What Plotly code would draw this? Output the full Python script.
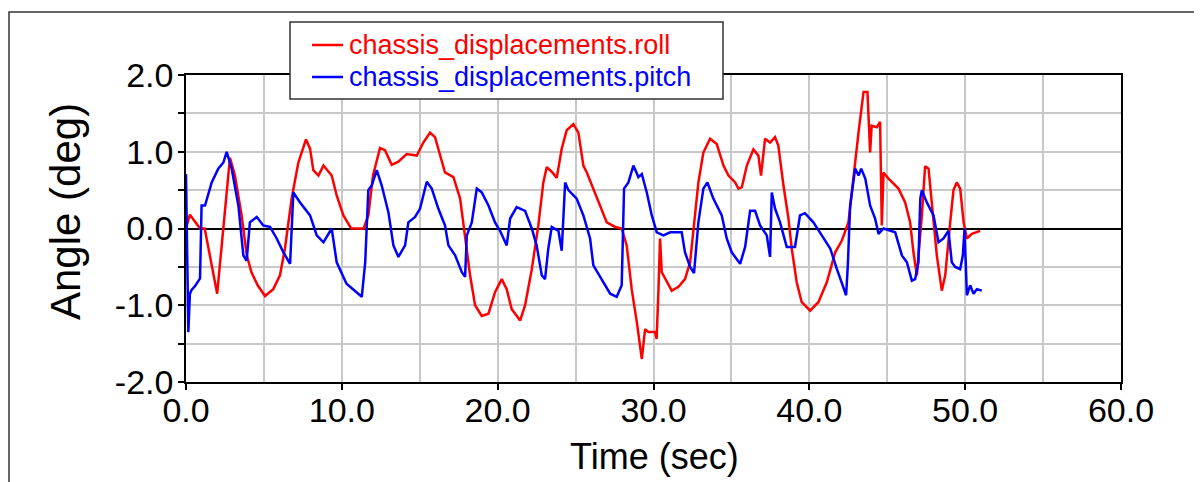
import plotly.graph_objects as go

# ---- data ----
roll_t = [0, 0.25, 0.9, 1.2, 2.0, 2.82, 3.14, 3.57, 3.9, 4.2,
          4.6, 5.07, 5.6, 6.03, 6.35, 6.57, 6.78, 7.21, 7.7, 7.96,
          8.17, 8.5, 8.82, 9.35, 9.67, 10.1, 10.6, 11.4, 11.7, 12.0,
          12.45, 12.77, 13.2, 13.63, 14.16, 14.81, 15.23, 15.66, 15.98, 16.62,
          17.16, 17.59, 17.91, 18.23, 18.55, 18.98, 19.41, 19.83, 20.26, 20.58,
          20.9, 21.44, 21.76, 22.19, 22.61, 22.93, 23.15, 23.47, 23.79, 24.11,
          24.43, 24.86, 25.18, 25.5, 25.72, 26.14, 26.57, 27.0, 27.54, 27.96,
          28.28, 28.6, 28.93, 29.25, 29.46, 29.67, 30.1, 30.2, 30.32, 30.42,
          30.53, 30.85, 31.17, 31.6, 32.02, 32.35, 32.56, 32.88, 33.2, 33.63,
          34.06, 34.49, 34.81, 35.24, 35.45, 35.67, 35.99, 36.41, 36.73, 36.9,
          37.16, 37.48, 37.8, 38.01, 38.34, 38.66, 38.87, 39.19, 39.51, 40.05,
          40.58, 41.12, 41.66, 42.08, 42.51, 42.83, 43.16, 43.48, 43.73, 43.9,
          44.0, 44.33, 44.54, 44.65, 44.76, 45.08, 45.72, 46.15, 46.47, 46.68,
          46.9, 47.22, 47.43, 47.65, 47.97, 48.18, 48.5, 48.72, 49.04, 49.25,
          49.46, 49.68, 49.9, 50.11, 50.43, 50.96]
roll_deg = [0, 0.18, 0, 0, -0.85, 0.92, 0.69, 0.17, -0.35, -0.57,
            -0.74, -0.88, -0.79, -0.61, -0.26, 0.08, 0.39, 0.86, 1.16, 1.04,
            0.76, 0.69, 0.82, 0.69, 0.43, 0.17, 0, 0, 0.17, 0.69,
            1.05, 1.02, 0.83, 0.87, 0.97, 0.95, 1.12, 1.25, 1.19, 0.73,
            0.67, 0.39, -0.09, -0.61, -1.0, -1.14, -1.11, -0.83, -0.66, -0.79,
            -1.05, -1.2, -1.0, -0.53, 0.04, 0.6, 0.8, 0.74, 0.66, 1.04,
            1.28, 1.36, 1.25, 0.82, 0.73, 0.52, 0.3, 0.08, 0.02, 0,
            -0.22, -0.79, -1.22, -1.7, -1.31, -1.35, -1.35, -1.44, -0.79, -0.13,
            -0.57, -0.7, -0.81, -0.76, -0.66, -0.44, 0, 0.6, 0.99, 1.17,
            1.1, 0.82, 0.69, 0.6, 0.52, 0.54, 0.82, 1.03, 0.95, 0.69,
            1.17, 1.12, 1.19, 1.08, 0.56, 0.13, -0.26, -0.7, -0.96, -1.07,
            -0.96, -0.7, -0.31, -0.16, 0.08, 0.69, 1.26, 1.78, 1.78, 0.99,
            1.34, 1.32, 1.39, 0.04, 0.73, 0.65, 0.52, 0.34, 0.08, -0.31,
            -0.61, 0.17, 0.81, 0.78, 0.08, -0.35, -0.81, -0.61, 0.08, 0.5,
            0.6, 0.52, 0.08, -0.13, -0.07, -0.03]

pitch_t = [0, 0.08, 0.15, 0.25, 0.36, 0.58, 0.9, 1.0, 1.22, 1.65,
           2.07, 2.4, 2.61, 2.93, 3.36, 3.68, 3.89, 4.1, 4.54, 4.96,
           5.39, 5.82, 6.25, 6.68, 6.89, 7.32, 7.96, 8.39, 8.82, 9.35,
           9.67, 10.3, 10.85, 11.28, 11.5, 11.7, 11.92, 12.24, 12.56, 12.99,
           13.31, 13.63, 14.06, 14.27, 14.7, 15.02, 15.45, 15.77, 16.19, 16.62,
           16.84, 17.27, 17.7, 17.91, 18.02, 18.34, 18.66, 18.98, 19.41, 19.83,
           20.15, 20.58, 20.8, 21.22, 21.76, 22.19, 22.5, 22.83, 23.04, 23.25,
           23.47, 23.9, 24.11, 24.33, 24.54, 25.07, 25.5, 25.93, 26.14, 26.68,
           27.22, 27.64, 27.96, 28.11, 28.39, 28.71, 29.03, 29.25, 29.57, 29.89,
           30.21, 30.64, 31.07, 31.81, 32.02, 32.35, 32.6, 32.88, 33.2, 33.46,
           33.84, 34.38, 34.7, 35.02, 35.56, 35.88, 36.2, 36.52, 36.84, 37.27,
           37.48, 37.59, 37.8, 38.12, 38.55, 39.08, 39.4, 39.72, 40.26, 40.8,
           41.34, 41.77, 42.08, 42.36, 42.47, 42.62, 42.94, 43.16, 43.33, 43.59,
           43.9, 44.22, 44.44, 44.76, 45.51, 45.94, 46.26, 46.58, 46.79, 47.0,
           47.12, 47.22, 47.54, 47.97, 48.29, 48.61, 48.93, 49.14, 49.36, 49.68,
           49.85, 49.96, 50.11, 50.32, 50.54, 50.75, 51.07]
pitch_deg = [0.71, -0.5, -1.35, -0.85, -0.8, -0.75, -0.65, 0.3, 0.3, 0.6,
             0.78, 0.86, 1.0, 0.78, 0.3, -0.35, -0.42, 0.08, 0.15, 0.04,
             0.02, -0.13, -0.31, -0.46, 0.47, 0.34, 0.17, -0.09, -0.18, 0,
             -0.44, -0.72, -0.81, -0.89, -0.44, 0.5, 0.56, 0.76, 0.56, 0.21,
             -0.22, -0.37, -0.22, 0.08, 0.15, 0.26, 0.61, 0.52, 0.26, 0.04,
             -0.22, -0.35, -0.57, -0.63, -0.09, 0.08, 0.52, 0.47, 0.3, 0.08,
             -0.03, -0.22, 0.13, 0.28, 0.23, 0, -0.22, -0.61, -0.66, -0.26,
             0.02, -0.03, -0.29, 0.6, 0.5, 0.39, 0.17, -0.13, -0.48, -0.66,
             -0.85, -0.89, -0.74, 0.52, 0.6, 0.82, 0.67, 0.71, 0.47, 0.17,
             -0.05, -0.09, -0.05, -0.05, -0.31, -0.5, -0.58, 0.08, 0.52, 0.6,
             0.39, 0.17, -0.13, -0.31, -0.46, -0.24, 0.23, 0.23, 0.04, -0.09,
             -0.37, 0.47, 0.26, 0.08, -0.24, -0.24, 0.17, 0.2, 0.08, -0.09,
             -0.26, -0.53, -0.72, -0.87, -0.48, 0.3, 0.78, 0.69, 0.78, 0.65,
             0.3, 0.13, -0.07, 0, -0.05, -0.35, -0.44, -0.68, -0.66, -0.44,
             0.39, 0.5, 0.34, 0.17, -0.18, -0.13, -0.03, -0.44, -0.5, -0.53,
             -0.35, 0, -0.87, -0.74, -0.85, -0.79, -0.81]

series_names = ["chassis_displacements.roll", "chassis_displacements.pitch"]
series_colors = ["#ff0000", "#0000ff"]
x_ticks = [0, 10, 20, 30, 40, 50, 60]
x_ticktext = ["0.0", "10.0", "20.0", "30.0", "40.0", "50.0", "60.0"]
y_ticks = [-2, -1, 0, 1, 2]
y_ticktext = ["-2.0", "-1.0", "0.0", "1.0", "2.0"]
x_title = "Time (sec)"
y_title = "Angle (deg)"

FONT = "Liberation Sans, Arial, sans-serif"
OFF = 8                       # page body margin
W, H = 1202 - OFF, 482 - OFF
# plot area in screen pixels: x 186..1121, y 75..382
L, T = 186 - OFF, 75 - OFF
R, B = W - (1121 - OFF), H - (382 - OFF)
PW, PH = W - L - R, H - T - B


def px_x(p):   # screen pixel -> paper x
    return (p - OFF - L) / PW


def px_y(p):   # screen pixel -> paper y
    return (H - B - (p - OFF)) / PH


fig = go.Figure()
for t, v, name, col in [(roll_t, roll_deg, series_names[0], series_colors[0]),
                        (pitch_t, pitch_deg, series_names[1], series_colors[1])]:
    fig.add_trace(go.Scatter(x=t, y=v, mode="lines", name=name,
                             line=dict(color=col, width=2.5), showlegend=False))

grid = "#c8c8c8"
annotations = [
    dict(text=x_title, xref="paper", yref="paper", x=px_x(654), y=px_y(456),
         xanchor="center", yanchor="middle", showarrow=False,
         font=dict(family=FONT, size=36, color="black")),
    dict(text=y_title, xref="paper", yref="paper", x=px_x(65), y=px_y(211),
         xanchor="center", yanchor="middle", showarrow=False, textangle=-90,
         font=dict(family=FONT, size=42, color="black")),
]
shapes = [
    # outer frame
    dict(type="rect", xref="paper", yref="paper",
         x0=px_x(9), x1=px_x(1400), y0=px_y(700), y1=px_y(12),
         line=dict(color="#333", width=1.5), layer="below"),
    # legend box
    dict(type="rect", xref="paper", yref="paper",
         x0=px_x(290), x1=px_x(723), y0=px_y(99), y1=px_y(22),
         line=dict(color="#333", width=1.5), fillcolor="white", layer="above"),
]
legend_rows = [45, 77]
for name, col, ry in zip(series_names, series_colors, legend_rows):
    shapes.append(dict(type="line", xref="paper", yref="paper",
                       x0=px_x(312), x1=px_x(343), y0=px_y(ry), y1=px_y(ry),
                       line=dict(color=col, width=2.5), layer="above"))
    annotations.append(dict(text=name, xref="paper", yref="paper",
                            x=px_x(347), y=px_y(ry), xanchor="left", yanchor="middle",
                            showarrow=False,
                            font=dict(family=FONT, size=27, color=col)))

fig.update_layout(
    width=W, height=H, autosize=False,
    margin=dict(l=L, r=R, t=T, b=B, pad=0),
    paper_bgcolor="white", plot_bgcolor="white",
    font=dict(family=FONT, color="black"),
    showlegend=False,
    xaxis=dict(
        range=[0, 60], tickvals=x_ticks, ticktext=x_ticktext,
        ticks="outside", ticklen=6, tickcolor="black", tickwidth=1.5,
        ticklabelstandoff=-9,
        showline=True, linecolor="black", linewidth=1.5, mirror=True,
        showgrid=True, gridcolor=grid, gridwidth=1.5,
        minor=dict(dtick=5, showgrid=True, gridcolor=grid, gridwidth=1.5, ticks=""),
        zeroline=False,
        tickfont=dict(family=FONT, size=34, color="black"),
    ),
    yaxis=dict(
        range=[-2, 2], tickvals=y_ticks, ticktext=y_ticktext,
        ticks="outside", ticklen=6, tickcolor="black", tickwidth=1.5,
        ticklabelstandoff=-2,
        showline=True, linecolor="black", linewidth=1.5, mirror=True,
        showgrid=True, gridcolor=grid, gridwidth=1.5,
        minor=dict(dtick=0.5, showgrid=True, gridcolor=grid, gridwidth=1.5,
                   ticks="outside", ticklen=6, tickcolor="black", tickwidth=1.5),
        zeroline=True, zerolinecolor="black", zerolinewidth=1.5,
        tickfont=dict(family=FONT, size=34, color="black"),
    ),
    annotations=annotations,
    shapes=shapes,
)

fig.write_html("out.html")
